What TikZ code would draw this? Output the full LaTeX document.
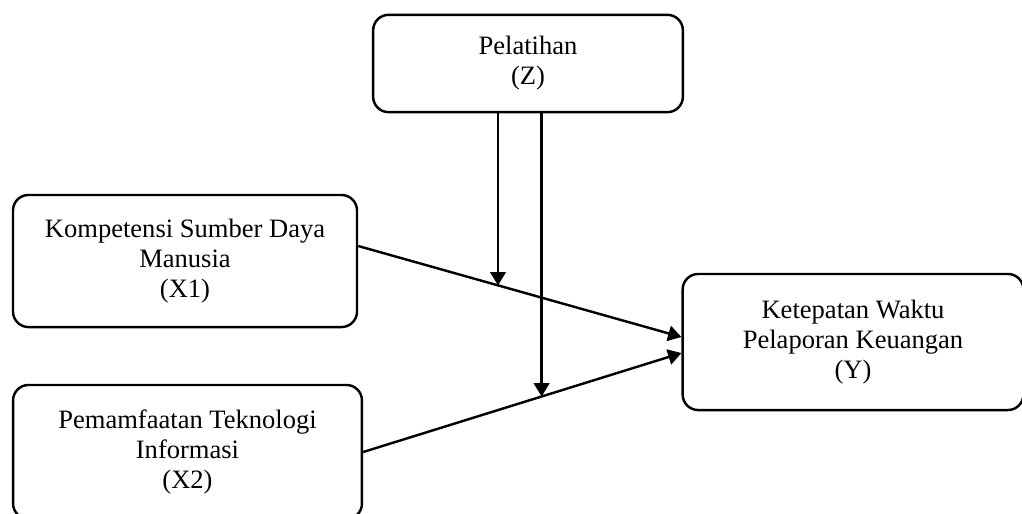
\documentclass[tikz,border=0pt]{standalone}
\usepackage{fontspec}
\setmainfont{Liberation Serif}
\usetikzlibrary{arrows.meta, positioning, calc}

\begin{document}
\begin{tikzpicture}[
    x=0.452pt, y=-0.452pt,
    var/.style={rectangle, draw, line width=1.1pt, rounded corners=7pt, align=center,
                font=\fontsize{12}{13.6}\selectfont},
    link/.style={line width=1.1pt, -{Triangle[length=6pt,width=7pt]}}
]
    % Frame
    \clip (0,0) rectangle (1022,513);

    % Variables
    \node[var, minimum width=140pt, minimum height=44pt] (z) at (528,63.5) {Pelatihan\\(Z)};
    \node[var, minimum width=155.5pt, minimum height=59.7pt] (x1) at (185,261) {Kompetensi Sumber Daya\\Manusia\\(X1)};
    \node[var, minimum width=157.7pt, minimum height=60.6pt] (x2) at (187.5,452) {Pemamfaatan Teknologi\\Informasi\\(X2)};
    \node[var, minimum width=154pt, minimum height=61.5pt] (y) at (853,342) {Ketepatan Waktu\\Pelaporan Keuangan\\(Y)};

    % Ends of the paths
    \coordinate (x1out) at ($(x1.east)+(0,-15)$);
    \coordinate (y1in) at ($(y.west)+(0,-5)$);
    \coordinate (y2in) at ($(y.west)+(0,11)$);
    \coordinate (m1) at ($(x1out)!0.4325!(y1in)$);
    \coordinate (m2) at ($(x2.east)!0.5607!(y2in)$);

    % Links
    \draw[link] (x1out) -- (y1in);
    \draw[link] (x2.east) -- (y2in);
    \draw[link] (m1 |- z.south) -- (m1);
    \draw[link] (m2 |- z.south) -- (m2);
\end{tikzpicture}
\end{document}
